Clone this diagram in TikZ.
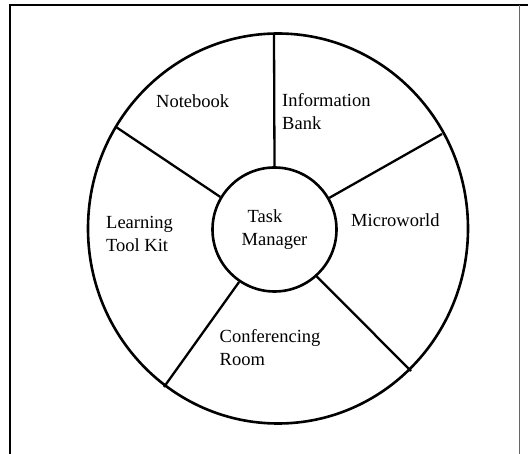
\documentclass[tikz,border=0pt]{standalone}
\usepackage{fontspec}
\setmainfont{Liberation Serif}
\begin{document}
\begin{tikzpicture}[x=1pt,y=-1pt,
  ring/.style={line width=2.6pt},
  spoke/.style={line width=2.3pt},
  lbl/.style={inner sep=0pt,align=left,anchor=west,font=\fontsize{18.5}{23}\selectfont}]
\useasboundingbox (0,0) rectangle (528,454);
\fill[white] (0,0) rectangle (528,454);
% frame
\draw[line width=2.4pt] (10,460) -- (10,5) -- (528,5);
\draw[line width=0.8pt,black!60] (519,5) -- (519,460);
% outer ring
\draw[ring] (278,228.5) ellipse [x radius=190, y radius=195];
% hub
\node[ring,draw,circle,minimum size=124pt,inner sep=0pt,align=left,
      font=\fontsize{18.5}{23}\selectfont] (tm) at (274.5,229.5)
      {\hspace*{6pt}Task\\Manager};
% spoke ends on the outer ring
\coordinate (o1) at (274,34);
\coordinate (o2) at (442,134);
\coordinate (o3) at (411,371);
\coordinate (o4) at (164,387);
\coordinate (o5) at (116,127);
\draw[spoke] (tm.90) -- (o1);
\draw[spoke] (tm.30.5) -- (o2);
\draw[spoke] (tm.-48.9) -- (o3);
\draw[spoke] (tm.-124.3) -- (o4);
\draw[spoke] (tm.149.2) -- (o5);
% sector labels
\node[lbl] (nb) at (156,101) {Notebook};
\node[lbl] (ib) at (282,111.5) {Information\\Bank};
\node[lbl] (mw) at (351,220.5) {Microworld};
\node[lbl] (lt) at (106,233.5) {Learning\\Tool Kit};
\node[lbl] (cr) at (219.5,347.5) {Conferencing\\Room};
\end{tikzpicture}
\end{document}
